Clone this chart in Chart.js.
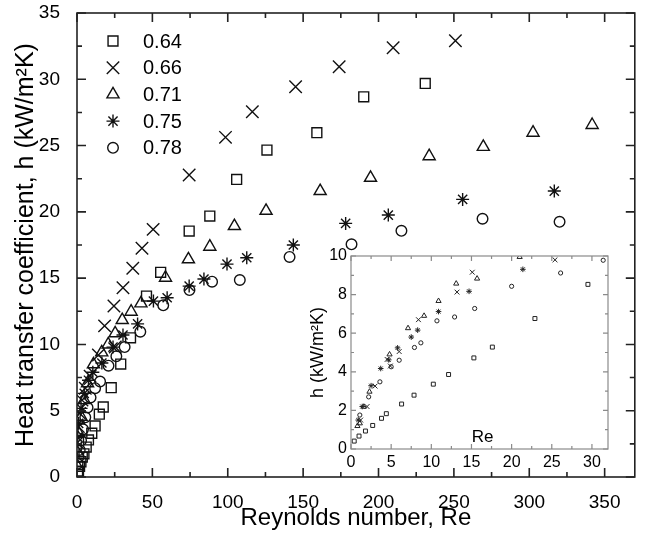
<!DOCTYPE html>
<html>
<head>
<meta charset="utf-8">
<script src="https://cdn.jsdelivr.net/npm/chart.js"></script>
<style>
  html, body { margin: 0; padding: 0; background: #fff; }
  #wrap { position: relative; width: 645px; height: 549px; }
  #mainChart { position: absolute; left: 0; top: 0; }
  #insetChart { position: absolute; left: 296px; top: 244px; }
</style>
</head>
<body>
<div id="wrap">
  <canvas id="mainChart" width="645" height="549"></canvas>
  <canvas id="insetChart" width="322" height="230"></canvas>
</div>
<script>
// --- DATA (main plot) ---
const seriesLabels = ['0.64', '0.66', '0.71', '0.75', '0.78'];
const xTicksMain = [0, 50, 100, 150, 200, 250, 300, 350];
const yTicksMain = [0, 5, 10, 15, 20, 25, 30, 35];

const re064 = [0.4, 1.0, 1.7, 2.6, 3.5, 4.6, 6.1, 7.6, 9.8, 12.0, 14.8, 17.4, 22.7, 29.0, 35.5, 46.1, 55.5, 74.4, 88.1, 105.9, 126, 159.1, 190.2, 231];
const h064  = [0.2, 0.45, 0.8, 1.15, 1.5, 1.75, 2.26, 2.8, 3.3, 3.85, 4.74, 5.28, 6.74, 8.52, 10.5, 13.65, 15.44, 18.55, 19.68, 22.45, 24.66, 25.97, 28.68, 29.69];

const re066 = [0.3, 0.9, 1.8, 3.3, 5.5, 8.7, 14.2, 18.3, 24.5, 25.4, 30.5, 37, 43.1, 50.5, 74.4, 98.5, 116.3, 145, 173.9, 209.7, 251];
const h066  = [2.6, 3.8, 4.8, 5.8, 6.7, 7.6, 9.2, 11.4, 12.9, 9.8, 14.28, 15.74, 17.25, 18.68, 22.78, 25.62, 27.55, 29.43, 30.94, 32.38, 32.9];

const re071 = [0.3, 0.5, 1.1, 2.7, 4.8, 7.0, 10.9, 16.4, 20.7, 25.3, 30, 35.9, 42.4, 58.7, 73.9, 88.1, 104.4, 125.4, 161.3, 194.7, 233.6, 269.5, 302.5, 341.7];
const h071  = [0.8, 1.8, 3.3, 4.55, 5.8, 7.07, 8.5, 9.4, 10.0, 10.84, 11.84, 12.47, 13.1, 15.03, 16.42, 17.37, 18.93, 20.08, 21.57, 22.57, 24.2, 24.9, 25.97, 26.55];

const re075 = [0.5, 1.1, 2.7, 4.8, 7.6, 10.5, 16.5, 23.9, 30.5, 40.2, 50.7, 59.8, 74.4, 84.2, 99.5, 112.6, 143.5, 178.2, 206.5, 255.8, 316.6];
const h075  = [3.0, 4.05, 5.18, 6.31, 7.3, 7.9, 8.6, 9.8, 10.71, 11.55, 13.27, 13.52, 14.4, 14.93, 16.06, 16.54, 17.5, 19.13, 19.76, 20.94, 21.57];

const re078 = [0.4, 1.1, 1.8, 2.7, 4.0, 5.5, 7.0, 9.0, 12.0, 15.3, 20.9, 26.1, 31.6, 42, 57.2, 74.6, 89.6, 108, 141, 182.1, 215.2, 269, 320.1];
const h078  = [1.0, 1.53, 2.04, 2.75, 3.6, 4.5, 5.25, 6.0, 6.7, 7.2, 8.4, 9.1, 9.8, 10.96, 12.95, 14.1, 14.73, 14.86, 16.6, 17.55, 18.57, 19.48, 19.25];

// --- DATA (inset) ---
const xTicksInset = [0, 5, 10, 15, 20, 25, 30];
const yTicksInset = [0, 2, 4, 6, 8, 10];

const inRe064 = [0.4, 1.0, 1.8, 2.7, 3.8, 4.4, 6.3, 7.85, 10.25, 12.15, 15.3, 17.6, 22.9, 29.5];
const inH064  = [0.41, 0.67, 0.93, 1.22, 1.59, 1.83, 2.33, 2.79, 3.36, 3.86, 4.72, 5.28, 6.76, 8.53];

const inRe066 = [1.2, 2.0, 3.0, 4.5, 4.9, 6.0, 8.4, 13.2, 15.1, 25.4];
const inH066  = [1.5, 2.2, 3.26, 4.64, 4.3, 5.05, 6.7, 8.13, 9.16, 9.8];

const inRe071 = [0.8, 1.1, 1.6, 2.3, 4.8, 7.1, 9.1, 10.9, 13.1, 15.7, 21.0];
const inH071  = [1.19, 1.33, 2.19, 2.97, 4.9, 6.26, 6.9, 7.67, 8.57, 8.83, 9.95];

const inRe075 = [0.9, 1.4, 2.5, 3.7, 4.7, 5.8, 7.5, 8.3, 10.9, 14.7, 21.4];
const inH075  = [1.5, 2.2, 3.28, 4.17, 4.62, 5.24, 5.8, 6.16, 7.12, 8.17, 9.31];

const inRe078 = [1.1, 2.2, 3.6, 5.0, 6.0, 7.9, 8.7, 10.7, 12.9, 15.4, 20.0, 26.1, 31.4];
const inH078  = [1.76, 2.7, 3.48, 4.26, 4.6, 5.26, 5.5, 6.64, 6.84, 7.28, 8.43, 9.12, 9.78];

const FONT = '"Liberation Sans", Arial, sans-serif';

function toPoints(xs, ys) {
    return xs.map((x, i) => ({ x: x, y: ys[i] }));
}

// marker looks, same order as seriesLabels
const markers = [
    { style: 'rect', main: 7, inset: 2.8 },
    { style: 'crossRot', main: 8.8, inset: 3.4 },
    { style: 'triangle', main: 7, inset: 3 },
    { style: 'star', main: 6.5, inset: 2.8 },
    { style: 'circle', main: 5.3, inset: 2.1 }
];

function makeDatasets(pairs, which, lineW, color) {
    return pairs.map((p, i) => ({
        label: seriesLabels[i],
        data: toPoints(p[0], p[1]),
        pointStyle: markers[i].style,
        pointRadius: markers[i][which],
        pointHoverRadius: markers[i][which],
        borderColor: color,
        backgroundColor: 'rgba(0,0,0,0)',
        borderWidth: lineW,
        pointBorderWidth: lineW,
        showLine: false
    }));
}

// frame + inward ticks on all four sides
const framePlugin = {
    id: 'frame',
    afterDraw(chart, args, o) {
        const { ctx, chartArea: a, scales: { x, y } } = chart;
        ctx.save();
        ctx.strokeStyle = o.color;
        ctx.lineWidth = o.width;
        ctx.strokeRect(a.left, a.top, a.right - a.left, a.bottom - a.top);
        const isMajor = (v, m) => Math.abs(v / m - Math.round(v / m)) < 1e-6;
        let n = Math.floor((x.max - x.min) / o.xMinor + 1e-9);
        for (let i = 0; i <= n; i++) {
            const v = x.min + i * o.xMinor;
            const len = isMajor(v, o.xMajor) ? o.major : o.minor;
            const p = x.getPixelForValue(v);
            ctx.beginPath();
            ctx.moveTo(p, a.bottom); ctx.lineTo(p, a.bottom - len);
            ctx.moveTo(p, a.top); ctx.lineTo(p, a.top + len);
            ctx.stroke();
        }
        n = Math.floor((y.max - y.min) / o.yMinor + 1e-9);
        for (let i = 0; i <= n; i++) {
            const v = y.min + i * o.yMinor;
            const len = isMajor(v, o.yMajor) ? o.major : o.minor;
            const p = y.getPixelForValue(v);
            ctx.beginPath();
            ctx.moveTo(a.left, p); ctx.lineTo(a.left + len, p);
            ctx.moveTo(a.right, p); ctx.lineTo(a.right - len, p);
            ctx.stroke();
        }
        ctx.restore();
    }
};

// legend in the top-left corner
const legendPlugin = {
    id: 'seriesLegend',
    afterDraw(chart) {
        const ctx = chart.ctx;
        ctx.save();
        chart.data.datasets.forEach((ds, i) => {
            const ly = 41 + i * 26.7;
            ctx.strokeStyle = ds.borderColor;
            ctx.fillStyle = 'rgba(0,0,0,0)';
            ctx.lineWidth = ds.borderWidth;
            Chart.helpers.drawPoint(ctx, { pointStyle: ds.pointStyle, radius: ds.pointRadius, rotation: 0, borderWidth: ds.borderWidth }, 113, ly);
            ctx.fillStyle = '#000';
            ctx.font = '20px ' + FONT;
            ctx.textBaseline = 'middle';
            ctx.textAlign = 'left';
            ctx.fillText(ds.label, 143, ly + 1);
        });
        ctx.restore();
    }
};

// "Re" written inside the inset
const insetLabelPlugin = {
    id: 'insetLabel',
    afterDraw(chart) {
        const { ctx, scales: { x, y } } = chart;
        ctx.save();
        ctx.fillStyle = '#000';
        ctx.font = '17px ' + FONT;
        ctx.textAlign = 'center';
        ctx.textBaseline = 'middle';
        ctx.fillText('Re', x.getPixelForValue(16.4), y.getPixelForValue(0.62));
        ctx.restore();
    }
};

function tickFilter(list) {
    return function (scale) {
        scale.ticks = list.map(v => ({ value: v }));
    };
}

const mainChart = new Chart(document.getElementById('mainChart'), {
    type: 'scatter',
    data: {
        datasets: makeDatasets([[re064, h064], [re066, h066], [re071, h071], [re075, h075], [re078, h078]], 'main', 1.4, '#111')
    },
    options: {
        responsive: false,
        devicePixelRatio: 1,
        animation: false,
        layout: { padding: { top: 13, right: 2, left: 0, bottom: 0 } },
        plugins: {
            legend: { display: false },
            tooltip: { enabled: false },
            frame: { color: '#222', width: 1.6, xMajor: 50, xMinor: 25, yMajor: 5, yMinor: 2.5, major: 9, minor: 5 }
        },
        scales: {
            x: {
                type: 'linear', min: 0, max: 370,
                grid: { display: false }, border: { display: false },
                ticks: { color: '#000', font: { family: FONT, size: 19 }, padding: 6, maxRotation: 0 },
                afterBuildTicks: tickFilter(xTicksMain),
                afterFit: s => { s.height = 72; },
                title: { display: true, text: 'Reynolds number, Re', color: '#000', font: { family: FONT, size: 24 }, padding: { top: 0, bottom: 16 } }
            },
            y: {
                type: 'linear', min: 0, max: 35,
                grid: { display: false }, border: { display: false },
                ticks: { color: '#000', font: { family: FONT, size: 19, lineHeight: 0.4 }, padding: 9 },
                afterBuildTicks: tickFilter(yTicksMain),
                afterFit: s => { s.width = 77; },
                title: { display: true, text: 'Heat transfer coefficient, h (kW/m²K)', color: '#000', font: { family: FONT, size: 25 }, padding: { top: 11, bottom: 0 } }
            }
        }
    },
    plugins: [framePlugin, legendPlugin]
});

const insetChart = new Chart(document.getElementById('insetChart'), {
    type: 'scatter',
    data: {
        datasets: makeDatasets([[inRe064, inH064], [inRe066, inH066], [inRe071, inH071], [inRe075, inH075], [inRe078, inH078]], 'inset', 1, '#222')
    },
    options: {
        responsive: false,
        devicePixelRatio: 1,
        animation: false,
        layout: { padding: { top: 12, right: 10, left: 0, bottom: 0 } },
        plugins: {
            legend: { display: false },
            tooltip: { enabled: false },
            frame: { color: '#8a8a8a', width: 1.2, xMajor: 5, xMinor: 2.5, yMajor: 2, yMinor: 1, major: 5, minor: 3 }
        },
        scales: {
            x: {
                type: 'linear', min: 0, max: 32,
                grid: { display: false, drawTicks: false }, border: { display: false },
                ticks: { color: '#000', font: { family: FONT, size: 16 }, padding: 4, maxRotation: 0 },
                afterBuildTicks: tickFilter(xTicksInset),
                afterFit: s => { s.height = 25; }
            },
            y: {
                type: 'linear', min: 0, max: 10,
                grid: { display: false, drawTicks: false }, border: { display: false },
                ticks: { color: '#000', font: { family: FONT, size: 16, lineHeight: 0.4 }, padding: 4 },
                afterBuildTicks: tickFilter(yTicksInset),
                afterFit: s => { s.width = 55; },
                title: { display: true, text: 'h (kW/m²K)', color: '#000', font: { family: FONT, size: 18 }, padding: { top: 11, bottom: 0 } }
            }
        }
    },
    plugins: [framePlugin, insetLabelPlugin]
});
</script>
</body>
</html>
